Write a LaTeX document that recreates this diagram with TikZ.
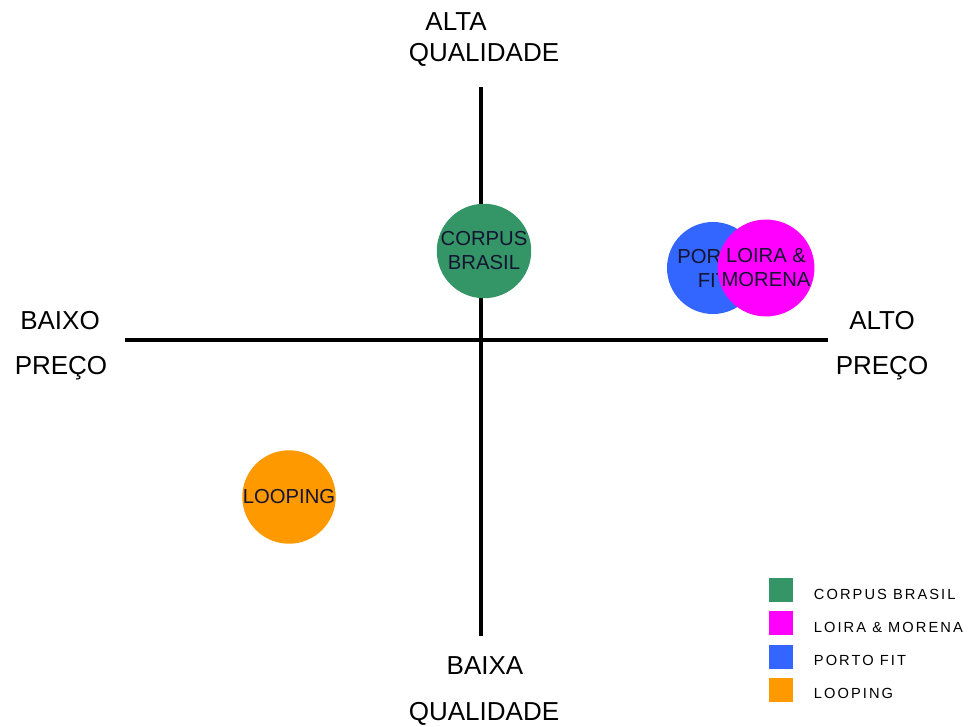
\documentclass[tikz,border=0pt]{standalone}
\usepackage{fontspec}
\setmainfont{Liberation Sans}
\usepackage{xcolor}
\definecolor{corpusgreen}{RGB}{52,150,102}
\definecolor{loirapink}{RGB}{255,0,255}
\definecolor{portoblue}{RGB}{51,102,255}
\definecolor{loopingorange}{RGB}{255,153,0}
\definecolor{inktext}{RGB}{20,20,50}
\usepackage{tikz}
\newcommand{\sizebrand}{69pt}
\newcommand{\sizekey}{18pt}
\tikzset{
    axis/.style={line width=3pt, black},
    axislabel/.style={font=\fontsize{19.5}{24}\selectfont, inner sep=0pt},
    brand/.style={circle, minimum size=\sizebrand, inner sep=0pt, align=center,
                  text=inktext, font=\fontsize{15.2}{18}\selectfont},
    key/.style={rectangle, minimum size=\sizekey, inner sep=0pt},
    keylabel/.style={anchor=west, inner sep=0pt,
                     font=\fontsize{11}{13}\addfontfeature{LetterSpace=14}\selectfont}
}

\begin{document}
\begin{tikzpicture}[x=0.75pt, y=-0.75pt]
  \useasboundingbox (0,0) rectangle (970,727);

  % axes
  \coordinate (top) at (481,87);
  \coordinate (bottom) at (481,636);
  \coordinate (left) at (125,340);
  \coordinate (right) at (828,340);
  \draw[axis] (left) -- (right);
  \draw[axis] (top) -- (bottom);

  % axis labels
  \path
      (456,22) node[axislabel] (alta) {ALTA}
      (484,55) node[axislabel] (alta-q) {QUALIDADE}
      (485,666) node[axislabel] (baixa) {BAIXA}
      (484,714) node[axislabel] (baixa-q) {QUALIDADE}
      (60,321) node[axislabel] (baixo) {BAIXO}
      (61,368) node[axislabel] (baixo-p) {PREÇO}
      (882,321) node[axislabel] (alto) {ALTO}
      (882,368) node[axislabel] (alto-p) {PREÇO};

  % brands
  \path
      (484,251) node[brand, fill=corpusgreen] (corpus) {CORPUS\\BRASIL}
      (713,268) node[brand, fill=portoblue] (porto) {PORTO\\FIT}
      (766,268) node[brand, fill=loirapink] (loira) {LOIRA \&\\MORENA}
      (289,497) node[brand, fill=loopingorange] (looping) {LOOPING};

  % legend
  \path
      (781,590) node[key, fill=corpusgreen] (key-corpus) {}
      ++(0,33.3) node[key, fill=loirapink] (key-loira) {}
      ++(0,33.3) node[key, fill=portoblue] (key-porto) {}
      ++(0,33.3) node[key, fill=loopingorange] (key-looping) {};
  \node[keylabel] at ([xshift=24.5pt, yshift=-3pt]key-corpus.center) {CORPUS BRASIL};
  \node[keylabel] at ([xshift=24.5pt, yshift=-3pt]key-loira.center) {LOIRA \& MORENA};
  \node[keylabel] at ([xshift=24.5pt, yshift=-3pt]key-porto.center) {PORTO FIT};
  \node[keylabel] at ([xshift=24.5pt, yshift=-3pt]key-looping.center) {LOOPING};
\end{tikzpicture}
\end{document}
